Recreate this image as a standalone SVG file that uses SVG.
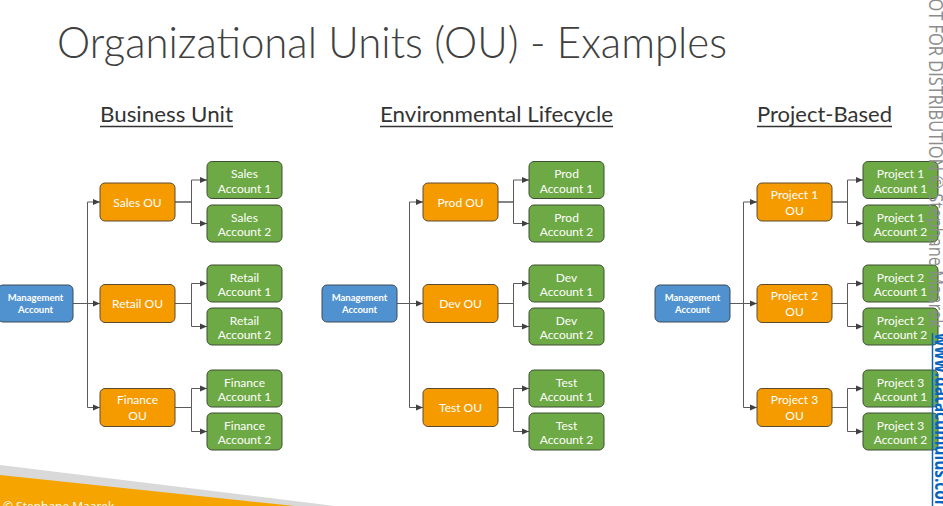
<svg xmlns="http://www.w3.org/2000/svg" width="943" height="506" viewBox="0 0 943 506">
<style>
.mg{fill:#5092D0;stroke:#3f4a55;stroke-width:1}
.ou{fill:#F59B00;stroke:#5a4a30;stroke-width:1}
.ac{fill:#6DA944;stroke:#3f4f35;stroke-width:1}
.mt{font-family:Lato,"Liberation Sans",sans-serif;font-weight:bold;font-size:9.5px;fill:#ffffff;text-anchor:middle}
.tx{font-family:Lato,"Liberation Sans",sans-serif;font-size:12px;fill:#ffffff;text-anchor:middle}
.sub{font-family:Lato,"Liberation Sans",sans-serif;font-size:22px;fill:#333333}
.cn path{fill:none;stroke:#5a5a5a;stroke-width:1}
.ul{stroke:#333333;stroke-width:1.5}
</style>
<defs>
<marker id="arr" markerWidth="8" markerHeight="8" refX="7" refY="4" orient="auto" markerUnits="userSpaceOnUse"><path d="M0,1 L7,4 L0,7 z" fill="#404040"/></marker>
</defs>
<rect x="0" y="0" width="943" height="506" fill="#ffffff"/>

<!-- footer shapes -->
<polygon points="0,465 335,506 0,506" fill="#D9D9D9"/>
<polygon points="0,475 295,506 0,506" fill="#F6A400"/>
<text x="3" y="511" font-family="'Open Sans','Liberation Sans',sans-serif" font-size="12" fill="#ffffff">© Stephane Maarek</text>

<!-- title -->
<text x="57" y="58" font-family="Lato,'Liberation Sans',sans-serif" font-weight="300" font-size="44" fill="#404040" textLength="670" lengthAdjust="spacingAndGlyphs">Organizational Units (OU) - Examples</text>

<!-- subtitles -->
<g id="sub-business">
<text class="sub" x="100" y="122" textLength="133" lengthAdjust="spacingAndGlyphs">Business Unit</text>
<line class="ul" x1="100" y1="126.5" x2="233" y2="126.5"/>
</g>
<g id="sub-env">
<text class="sub" x="380" y="122" textLength="233" lengthAdjust="spacingAndGlyphs">Environmental Lifecycle</text>
<line class="ul" x1="380" y1="126.5" x2="613" y2="126.5"/>
</g>
<g id="sub-project">
<text class="sub" x="757" y="122" textLength="135" lengthAdjust="spacingAndGlyphs">Project-Based</text>
<line class="ul" x1="757" y1="126.5" x2="892" y2="126.5"/>
</g>

<!-- connectors -->
<g id="connectors" class="cn">
<path d="M73,303.5H87.5V202H100" marker-end="url(#arr)"/>
<path d="M73,303.5H100" marker-end="url(#arr)"/>
<path d="M73,303.5H87.5V407.5H100" marker-end="url(#arr)"/>
<path d="M175,202H191.5V180H207" marker-end="url(#arr)"/>
<path d="M175,202H191.5V223.5H207" marker-end="url(#arr)"/>
<path d="M175,303.5H191.5V283.5H207" marker-end="url(#arr)"/>
<path d="M175,303.5H191.5V326.5H207" marker-end="url(#arr)"/>
<path d="M175,407.5H191.5V388.5H207" marker-end="url(#arr)"/>
<path d="M175,407.5H191.5V431.5H207" marker-end="url(#arr)"/>

<path d="M397,303.5H409.5V202H423" marker-end="url(#arr)"/>
<path d="M397,303.5H423" marker-end="url(#arr)"/>
<path d="M397,303.5H409.5V407.5H423" marker-end="url(#arr)"/>
<path d="M498,202H513.5V180H529" marker-end="url(#arr)"/>
<path d="M498,202H513.5V223.5H529" marker-end="url(#arr)"/>
<path d="M498,303.5H513.5V283.5H529" marker-end="url(#arr)"/>
<path d="M498,303.5H513.5V326.5H529" marker-end="url(#arr)"/>
<path d="M498,407.5H513.5V388.5H529" marker-end="url(#arr)"/>
<path d="M498,407.5H513.5V431.5H529" marker-end="url(#arr)"/>

<path d="M730,303.5H743.5V202H757" marker-end="url(#arr)"/>
<path d="M730,303.5H757" marker-end="url(#arr)"/>
<path d="M730,303.5H743.5V407.5H757" marker-end="url(#arr)"/>
<path d="M832,202H847.5V180H863" marker-end="url(#arr)"/>
<path d="M832,202H847.5V223.5H863" marker-end="url(#arr)"/>
<path d="M832,303.5H847.5V283.5H863" marker-end="url(#arr)"/>
<path d="M832,303.5H847.5V326.5H863" marker-end="url(#arr)"/>
<path d="M832,407.5H847.5V388.5H863" marker-end="url(#arr)"/>
<path d="M832,407.5H847.5V431.5H863" marker-end="url(#arr)"/>
</g>

<!-- Business Unit tree -->
<g id="bu-mgmt" transform="translate(-2,285)"><rect class="mg" width="75" height="37" rx="5"/><text class="mt" x="37.5" y="15.5">Management</text><text class="mt" x="37.5" y="27.5">Account</text></g>
<g id="bu-sales-ou" transform="translate(100,183)"><rect class="ou" width="75" height="38" rx="5"/><text class="tx" x="37.5" y="23.5">Sales OU</text></g>
<g id="bu-retail-ou" transform="translate(100,284.5)"><rect class="ou" width="75" height="38" rx="5"/><text class="tx" x="37.5" y="23.5">Retail OU</text></g>
<g id="bu-finance-ou" transform="translate(100,388.5)"><rect class="ou" width="75" height="38" rx="5"/><text class="tx" x="37.5" y="15.5">Finance</text><text class="tx" x="37.5" y="31.5">OU</text></g>
<g id="bu-sales-acc1" transform="translate(207,161.5)"><rect class="ac" width="75" height="37" rx="5"/><text class="tx" x="37.5" y="16.5">Sales</text><text class="tx" x="37.5" y="31">Account 1</text></g>
<g id="bu-sales-acc2" transform="translate(207,205)"><rect class="ac" width="75" height="37" rx="5"/><text class="tx" x="37.5" y="16.5">Sales</text><text class="tx" x="37.5" y="31">Account 2</text></g>
<g id="bu-retail-acc1" transform="translate(207,265)"><rect class="ac" width="75" height="37" rx="5"/><text class="tx" x="37.5" y="16.5">Retail</text><text class="tx" x="37.5" y="31">Account 1</text></g>
<g id="bu-retail-acc2" transform="translate(207,308)"><rect class="ac" width="75" height="37" rx="5"/><text class="tx" x="37.5" y="16.5">Retail</text><text class="tx" x="37.5" y="31">Account 2</text></g>
<g id="bu-finance-acc1" transform="translate(207,370)"><rect class="ac" width="75" height="37" rx="5"/><text class="tx" x="37.5" y="16.5">Finance</text><text class="tx" x="37.5" y="31">Account 1</text></g>
<g id="bu-finance-acc2" transform="translate(207,413)"><rect class="ac" width="75" height="37" rx="5"/><text class="tx" x="37.5" y="16.5">Finance</text><text class="tx" x="37.5" y="31">Account 2</text></g>

<!-- Environmental Lifecycle tree -->
<g id="env-mgmt" transform="translate(322,285)"><rect class="mg" width="75" height="37" rx="5"/><text class="mt" x="37.5" y="15.5">Management</text><text class="mt" x="37.5" y="27.5">Account</text></g>
<g id="env-prod-ou" transform="translate(423,183)"><rect class="ou" width="75" height="38" rx="5"/><text class="tx" x="37.5" y="23.5">Prod OU</text></g>
<g id="env-dev-ou" transform="translate(423,284.5)"><rect class="ou" width="75" height="38" rx="5"/><text class="tx" x="37.5" y="23.5">Dev OU</text></g>
<g id="env-test-ou" transform="translate(423,388.5)"><rect class="ou" width="75" height="38" rx="5"/><text class="tx" x="37.5" y="23.5">Test OU</text></g>
<g id="env-prod-acc1" transform="translate(529,161.5)"><rect class="ac" width="75" height="37" rx="5"/><text class="tx" x="37.5" y="16.5">Prod</text><text class="tx" x="37.5" y="31">Account 1</text></g>
<g id="env-prod-acc2" transform="translate(529,205)"><rect class="ac" width="75" height="37" rx="5"/><text class="tx" x="37.5" y="16.5">Prod</text><text class="tx" x="37.5" y="31">Account 2</text></g>
<g id="env-dev-acc1" transform="translate(529,265)"><rect class="ac" width="75" height="37" rx="5"/><text class="tx" x="37.5" y="16.5">Dev</text><text class="tx" x="37.5" y="31">Account 1</text></g>
<g id="env-dev-acc2" transform="translate(529,308)"><rect class="ac" width="75" height="37" rx="5"/><text class="tx" x="37.5" y="16.5">Dev</text><text class="tx" x="37.5" y="31">Account 2</text></g>
<g id="env-test-acc1" transform="translate(529,370)"><rect class="ac" width="75" height="37" rx="5"/><text class="tx" x="37.5" y="16.5">Test</text><text class="tx" x="37.5" y="31">Account 1</text></g>
<g id="env-test-acc2" transform="translate(529,413)"><rect class="ac" width="75" height="37" rx="5"/><text class="tx" x="37.5" y="16.5">Test</text><text class="tx" x="37.5" y="31">Account 2</text></g>

<!-- Project-Based tree -->
<g id="prj-mgmt" transform="translate(655,285)"><rect class="mg" width="75" height="37" rx="5"/><text class="mt" x="37.5" y="15.5">Management</text><text class="mt" x="37.5" y="27.5">Account</text></g>
<g id="prj-1-ou" transform="translate(757,183)"><rect class="ou" width="75" height="38" rx="5"/><text class="tx" x="37.5" y="15.5">Project 1</text><text class="tx" x="37.5" y="31.5">OU</text></g>
<g id="prj-2-ou" transform="translate(757,284.5)"><rect class="ou" width="75" height="38" rx="5"/><text class="tx" x="37.5" y="15.5">Project 2</text><text class="tx" x="37.5" y="31.5">OU</text></g>
<g id="prj-3-ou" transform="translate(757,388.5)"><rect class="ou" width="75" height="38" rx="5"/><text class="tx" x="37.5" y="15.5">Project 3</text><text class="tx" x="37.5" y="31.5">OU</text></g>
<g id="prj-1-acc1" transform="translate(863,161.5)"><rect class="ac" width="75" height="37" rx="5"/><text class="tx" x="37.5" y="16.5">Project 1</text><text class="tx" x="37.5" y="31">Account 1</text></g>
<g id="prj-1-acc2" transform="translate(863,205)"><rect class="ac" width="75" height="37" rx="5"/><text class="tx" x="37.5" y="16.5">Project 1</text><text class="tx" x="37.5" y="31">Account 2</text></g>
<g id="prj-2-acc1" transform="translate(863,265)"><rect class="ac" width="75" height="37" rx="5"/><text class="tx" x="37.5" y="16.5">Project 2</text><text class="tx" x="37.5" y="31">Account 1</text></g>
<g id="prj-2-acc2" transform="translate(863,308)"><rect class="ac" width="75" height="37" rx="5"/><text class="tx" x="37.5" y="16.5">Project 2</text><text class="tx" x="37.5" y="31">Account 2</text></g>
<g id="prj-3-acc1" transform="translate(863,370)"><rect class="ac" width="75" height="37" rx="5"/><text class="tx" x="37.5" y="16.5">Project 3</text><text class="tx" x="37.5" y="31">Account 1</text></g>
<g id="prj-3-acc2" transform="translate(863,413)"><rect class="ac" width="75" height="37" rx="5"/><text class="tx" x="37.5" y="16.5">Project 3</text><text class="tx" x="37.5" y="31">Account 2</text></g>

<!-- watermark (partly outside the frame) -->
<g id="watermark">
<text transform="translate(929,0) rotate(90)" x="-14" y="0" font-family="'Open Sans','Liberation Sans',sans-serif" font-size="20" fill="#8c8c8c" textLength="342" lengthAdjust="spacingAndGlyphs">NOT FOR DISTRIBUTION © Stephane Maarek</text>
<text transform="translate(935,0) rotate(90)" x="333" y="0" font-family="'Open Sans','Liberation Sans',sans-serif" font-weight="bold" font-size="20" fill="#0563C1" textLength="182" lengthAdjust="spacingAndGlyphs">www.datacumulus.com</text>
<line x1="932.5" y1="333" x2="932.5" y2="515" stroke="#0563C1" stroke-width="1.5"/>
</g>
</svg>
